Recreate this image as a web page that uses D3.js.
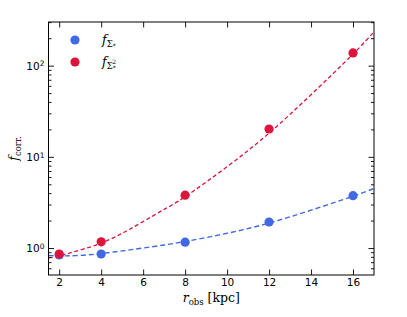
<!DOCTYPE html>
<html>
<head>
<meta charset="utf-8">
<script src="https://cdn.jsdelivr.net/npm/d3@7"></script>
<style>
  body { margin: 0; background: #fff; }
  text { font-family: "DejaVu Sans", sans-serif; }
  .math { font-family: "DejaVu Serif", serif; }
</style>
</head>
<body>
<div id="chart"></div>
<script>
// measured points
const radii = [2, 4, 8, 12, 16];
const fSigma = [0.84, 0.86, 1.16, 1.93, 3.75];
const fSigma2 = [0.86, 1.17, 3.8, 20.2, 138];

// dashed fit curves
const fitX = [1.5, 2, 3, 4, 5, 6, 7, 8, 10, 12, 14, 16, 17];
const fitSigma = [0.83, 0.82, 0.83, 0.87, 0.93, 1.0, 1.08, 1.18, 1.45, 1.88, 2.6, 3.7, 4.5];
const fitSigma2 = [0.78, 0.82, 0.95, 1.13, 1.45, 1.95, 2.65, 3.65, 7.8, 18.2, 48, 134, 235];

const xTicks = [2, 4, 6, 8, 10, 12, 14, 16];
const yTicks = [1, 10, 100];

const blue = "#4169e1", red = "#dc143c";

const W = 407, H = 317;
const m = { left: 48.5, right: 33, top: 22, bottom: 42 };
const iw = W - m.left - m.right, ih = H - m.top - m.bottom;

const svg = d3.select("#chart").append("svg")
  .attr("width", W).attr("height", H);

const g = svg.append("g").attr("transform", `translate(${m.left},${m.top})`);

const x = d3.scaleLinear().domain([1.49, 17]).range([0, iw]);
const y = d3.scaleLog().domain([0.506, 301]).range([ih, 0]);

// minor log ticks
const minor = [];
[0.1, 1, 10, 100].forEach(dec => {
  for (let k = 2; k <= 9; k++) {
    const v = k * dec;
    if (v >= y.domain()[0] && v <= y.domain()[1]) minor.push(v);
  }
});

g.append("clipPath").attr("id", "clip")
  .append("rect").attr("width", iw).attr("height", ih);

const plot = g.append("g").attr("clip-path", "url(#clip)");

const line = d3.line()
  .x((d, i) => x(fitX[i]))
  .y(d => y(d))
  .curve(d3.curveNatural);

plot.append("path").datum(fitSigma)
  .attr("fill", "none").attr("stroke", blue)
  .attr("stroke-width", 1.4).attr("stroke-dasharray", "5,3")
  .attr("d", line);

plot.append("path").datum(fitSigma2)
  .attr("fill", "none").attr("stroke", red)
  .attr("stroke-width", 1.3).attr("stroke-dasharray", "4,2.6")
  .attr("d", line);

g.append("g").selectAll("circle").data(fSigma).enter().append("circle")
  .attr("cx", (d, i) => x(radii[i])).attr("cy", d => y(d))
  .attr("r", 4.6).attr("fill", blue);

g.append("g").selectAll("circle").data(fSigma2).enter().append("circle")
  .attr("cx", (d, i) => x(radii[i])).attr("cy", d => y(d))
  .attr("r", 4.6).attr("fill", red);

// axes with inward ticks
const axStyle = sel => {
  sel.select(".domain").remove();
  sel.selectAll("line").attr("stroke", "#000").attr("stroke-width", 0.9);
};

g.append("g").attr("transform", `translate(0,${ih})`)
  .call(d3.axisBottom(x).tickValues(xTicks).tickSizeInner(-5.5).tickSizeOuter(0).tickPadding(4))
  .call(axStyle)
  .selectAll("text").attr("font-size", 10.5).attr("fill", "#000");

g.append("g")
  .call(d3.axisTop(x).tickValues(xTicks).tickSizeInner(-5.5).tickSizeOuter(0).tickFormat(""))
  .call(axStyle);

const yl = g.append("g")
  .call(d3.axisLeft(y).tickValues(yTicks).tickSizeInner(-5.5).tickSizeOuter(0).tickPadding(9).tickFormat(""))
  .call(axStyle);
yl.selectAll(".tick").append("text")
  .attr("x", -4).attr("dy", "0.35em").attr("text-anchor", "end")
  .attr("fill", "#000").attr("font-size", 10.5)
  .each(function (d) {
    const t = d3.select(this);
    t.append("tspan").text("10");
    t.append("tspan").attr("dy", "-0.45em").attr("font-size", 7.5)
      .text(Math.round(Math.log10(d)));
  });

g.append("g")
  .call(d3.axisLeft(y).tickValues(minor).tickSizeInner(-3).tickSizeOuter(0).tickFormat(""))
  .call(axStyle);

g.append("g").attr("transform", `translate(${iw},0)`)
  .call(d3.axisRight(y).tickValues(yTicks).tickSizeInner(-5.5).tickSizeOuter(0).tickFormat(""))
  .call(axStyle);
g.append("g").attr("transform", `translate(${iw},0)`)
  .call(d3.axisRight(y).tickValues(minor).tickSizeInner(-3).tickSizeOuter(0).tickFormat(""))
  .call(axStyle);

g.append("rect").attr("width", iw).attr("height", ih)
  .attr("fill", "none").attr("stroke", "#000").attr("stroke-width", 1);

// legend
const leg = [
  { c: blue, sup: null, y: 40 },
  { c: red, sup: "2", y: 62 }
];
leg.forEach(d => {
  svg.append("circle").attr("cx", 75).attr("cy", d.y).attr("r", 4.6).attr("fill", d.c);
  const t = svg.append("text").attr("class", "math").attr("x", 102).attr("y", d.y + 4)
    .attr("font-size", 12.5);
  t.append("tspan").attr("font-style", "italic").text("f");
  t.append("tspan").attr("dy", 2.5).attr("font-size", 8.5).text("Σ");
  t.append("tspan").attr("dy", 1.5).attr("font-size", 6).text("*");
  if (d.sup) {
    t.append("tspan").attr("dx", -3.3).attr("dy", -6).attr("font-size", 6).text(d.sup);
  }
});

// axis labels
const xl = svg.append("text").attr("class", "math")
  .attr("x", m.left + iw / 2).attr("y", 302).attr("text-anchor", "middle").attr("font-size", 12.5);
xl.append("tspan").attr("font-style", "italic").text("r");
xl.append("tspan").attr("dy", 2.5).attr("font-size", 8.5).text("obs");
xl.append("tspan").attr("dy", -2.5).text(" [kpc]");

const ylab = svg.append("text").attr("class", "math")
  .attr("transform", `translate(18,${m.top + ih / 2}) rotate(-90)`)
  .attr("text-anchor", "middle").attr("font-size", 12.5);
ylab.append("tspan").attr("font-style", "italic").text("f");
ylab.append("tspan").attr("dy", 2.5).attr("font-size", 8.5).text("corr.");
</script>
</body>
</html>
